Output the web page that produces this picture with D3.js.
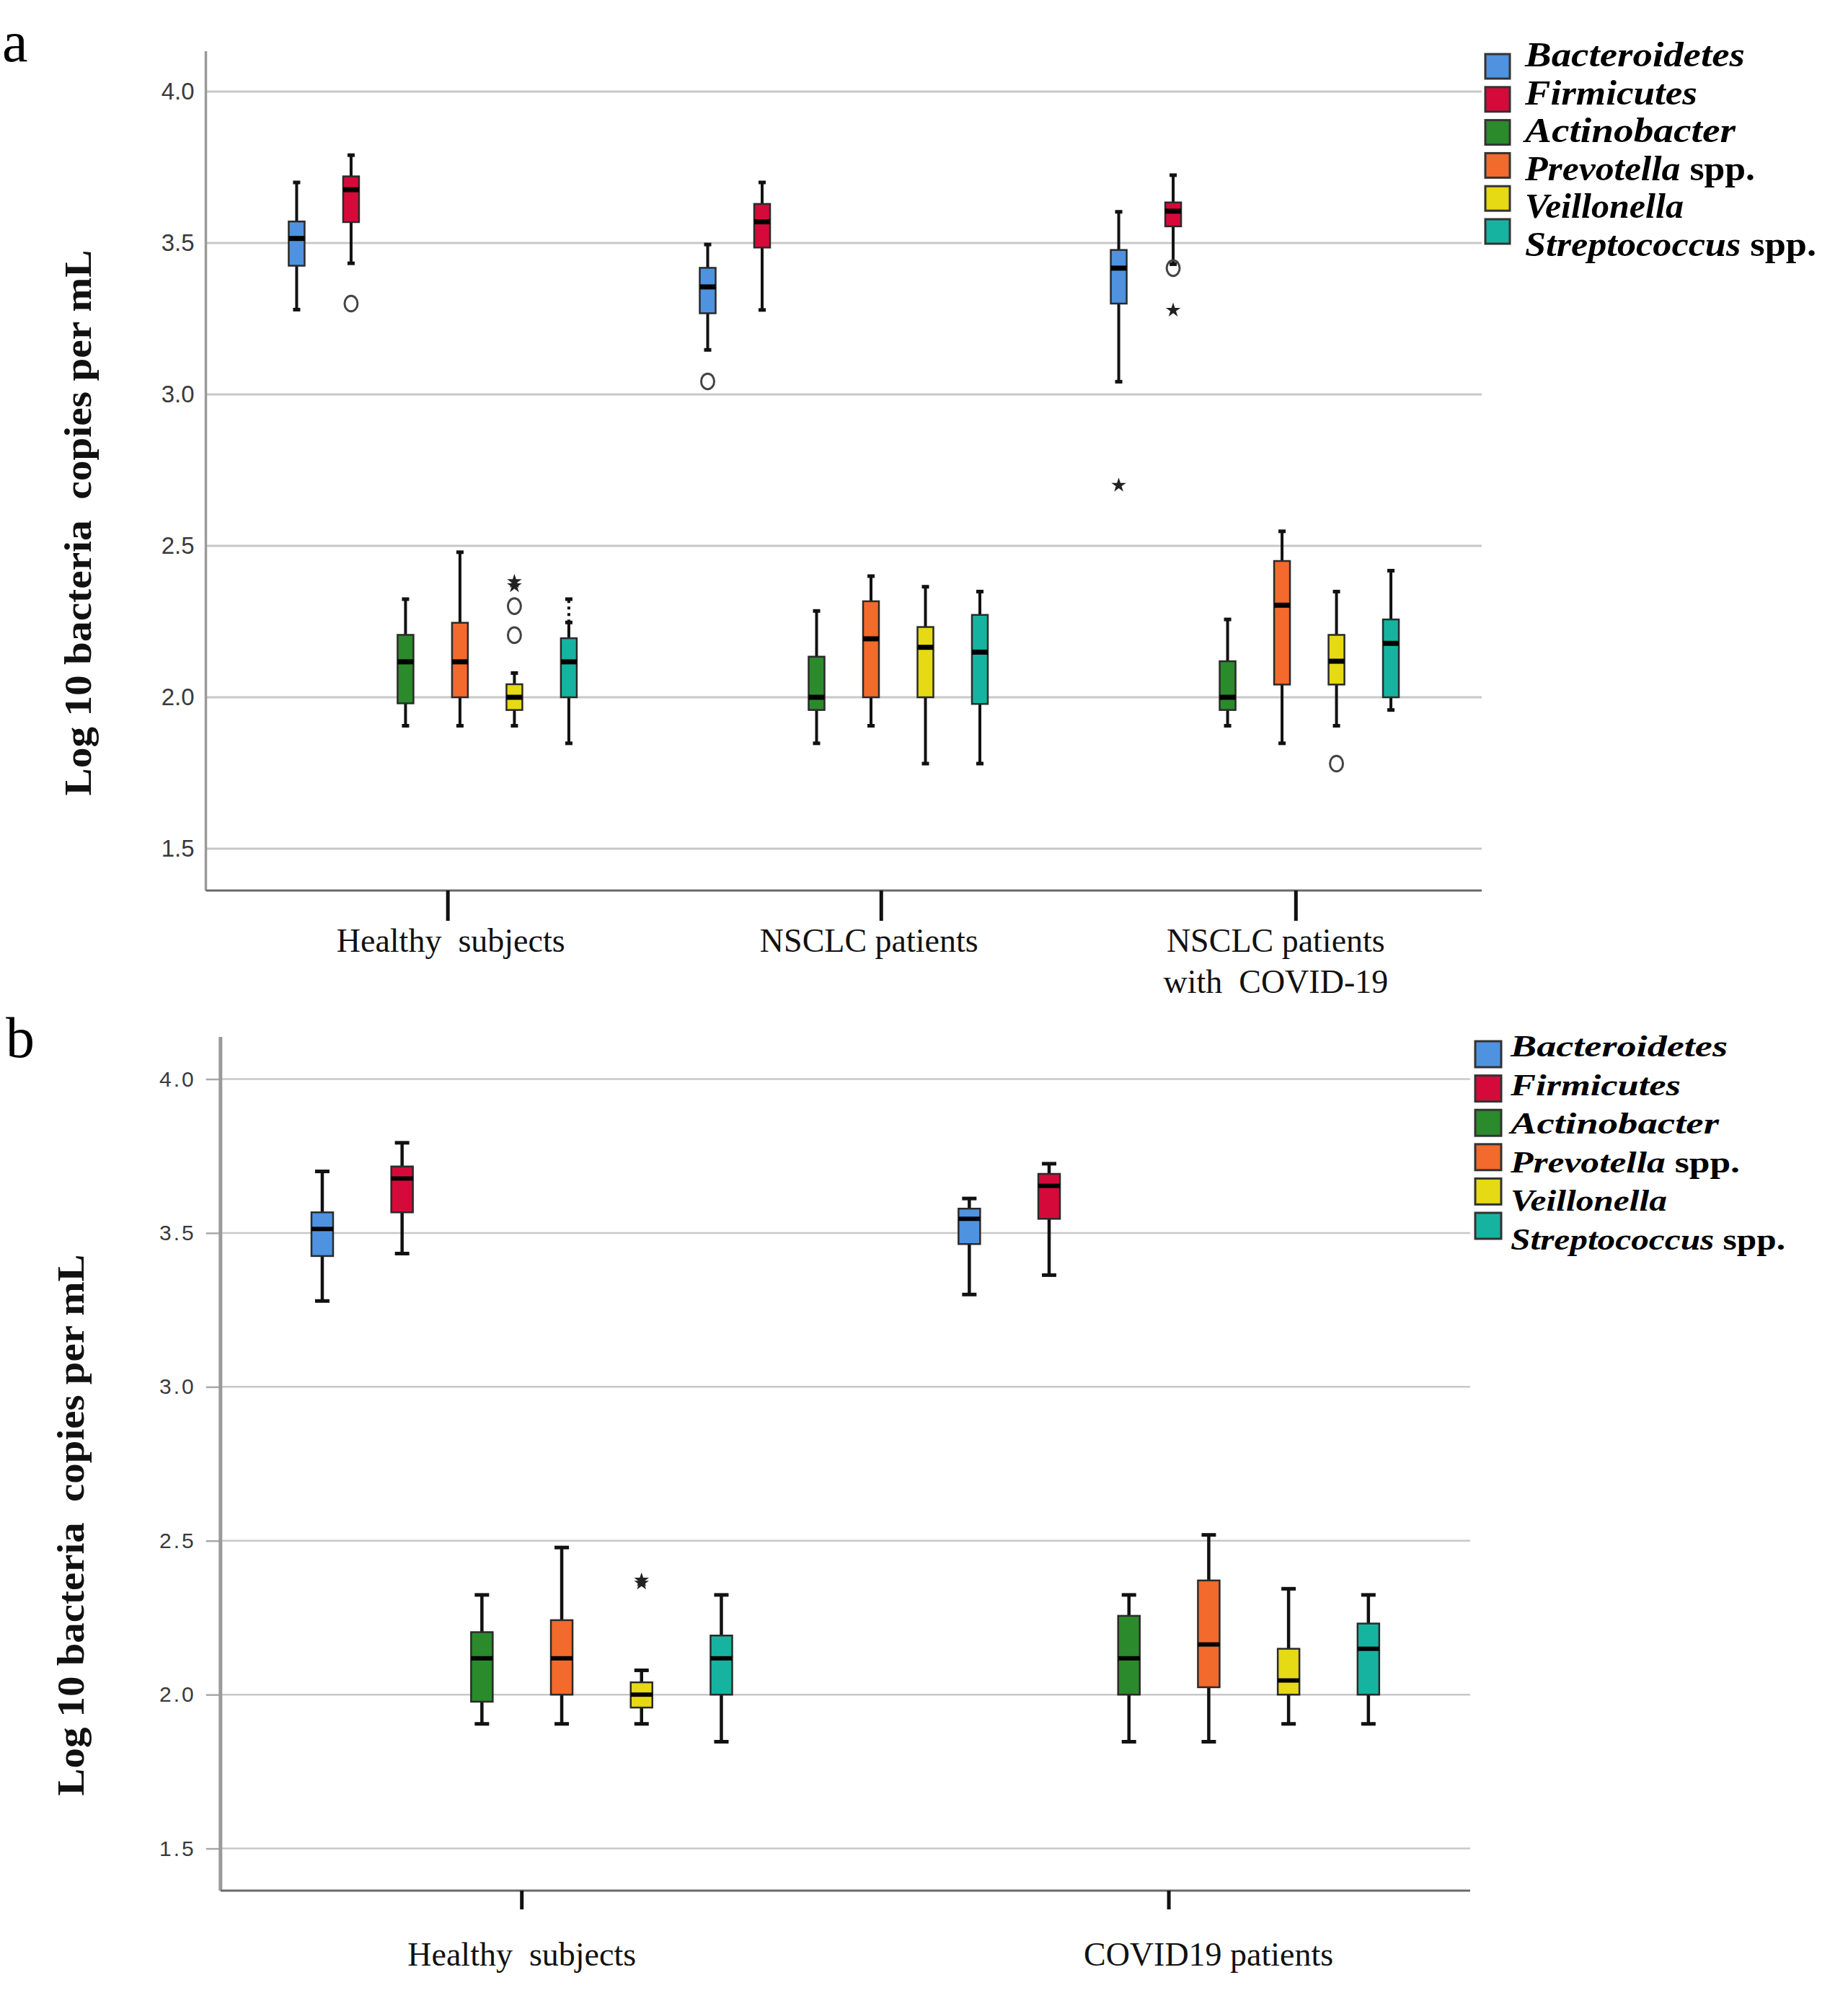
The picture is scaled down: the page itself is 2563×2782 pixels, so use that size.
<!DOCTYPE html>
<html>
<head>
<meta charset="utf-8">
<script src="https://cdnjs.cloudflare.com/ajax/libs/d3/7.8.5/d3.min.js"></script>
<style>
body { margin: 0; background: #fff; }
text { white-space: pre; }
</style>
</head>
<body>
<script>
var width = 2563;
var height = 2782;

// species, in legend order
var species = ["Bacteroidetes", "Firmicutes", "Actinobacter", "Prevotella", "Veillonella", "Streptococcus"];
var speciesSuffix = ["", "", "", " spp.", "", " spp."];
var colors = ["#4f92e0", "#d60a3a", "#2b8a2b", "#f26a2c", "#e6da14", "#16b4a0"];
var yTicks = [1.5, 2.0, 2.5, 3.0, 3.5, 4.0];
var yLabel = "Log 10 bacteria  copies per mL";

// panel a
var groupsA = ["Healthy  subjects", "NSCLC patients", "NSCLC patients\nwith  COVID-19"];
// per group, per species: [lower whisker, Q1, median, Q3, upper whisker]
var boxesA = [
  [[3.28, 3.425, 3.515, 3.571, 3.70], [3.433, 3.569, 3.676, 3.72, 3.79], [1.906, 1.98, 2.117, 2.206, 2.324],
   [1.906, 2.0, 2.117, 2.246, 2.479], [1.906, 1.958, 2.0, 2.043, 2.08], [1.848, 2.0, 2.117, 2.195, 2.247]],
  [[3.147, 3.268, 3.355, 3.418, 3.495], [3.279, 3.485, 3.570, 3.629, 3.70], [1.848, 1.958, 2.0, 2.134, 2.285],
   [1.906, 2.0, 2.193, 2.317, 2.40], [1.781, 2.0, 2.165, 2.232, 2.365], [1.781, 1.978, 2.149, 2.272, 2.349]],
  [[3.042, 3.30, 3.417, 3.477, 3.603], [3.430, 3.555, 3.605, 3.634, 3.724], [1.906, 1.958, 2.0, 2.119, 2.257],
   [1.848, 2.042, 2.304, 2.45, 2.548], [1.906, 2.042, 2.119, 2.206, 2.349], [1.958, 2.0, 2.178, 2.257, 2.418]]
];
// [group, species, value, kind]
var outliersA = [
  [0, 1, 3.30, "o"], [0, 4, 2.205, "o"], [0, 4, 2.301, "o"], [0, 4, 2.368, "*"], [0, 4, 2.382, "*"],
  [1, 0, 3.043, "o"],
  [2, 0, 2.70, "*"], [2, 1, 3.417, "o"], [2, 1, 3.278, "*"], [2, 4, 1.781, "o"]
];
// dotted whisker extension: [group, species, top value]
var dottedA = [[0, 5, 2.324]];

// panel b
var groupsB = ["Healthy  subjects", "COVID19 patients"];
var boxesB = [
  [[3.279, 3.425, 3.513, 3.567, 3.70], [3.433, 3.567, 3.677, 3.716, 3.793], [1.905, 1.977, 2.118, 2.203, 2.324],
   [1.905, 2.0, 2.118, 2.242, 2.478], [1.905, 1.958, 2.0, 2.04, 2.079], [1.847, 2.0, 2.118, 2.192, 2.324]],
  [[3.30, 3.464, 3.546, 3.579, 3.612], [3.363, 3.546, 3.653, 3.692, 3.725], [1.847, 2.0, 2.118, 2.256, 2.324],
   [1.847, 2.024, 2.163, 2.371, 2.519], [1.905, 2.0, 2.046, 2.149, 2.344], [1.905, 2.0, 2.149, 2.231, 2.324]]
];
var outliersB = [[0, 4, 2.362, "*"], [0, 4, 2.372, "*"]];
var dottedB = [];

var serif = "'Liberation Serif', 'Times New Roman', serif";
var sans = "'Liberation Sans', Arial, sans-serif";

var svg = d3.select("body")
            .append("svg")
            .attr("width", width)
            .attr("height", height);

svg.append("rect").attr("width", width).attr("height", height).attr("fill", "#fff");

var drawPanel = function(p) {
  var g = svg.append("g");
  var y = d3.scaleLinear().domain([1.5, 4.0]).range([p.y15, p.y40]);
  var gx = d3.scalePoint().domain(d3.range(p.groups.length)).range([p.left, p.right]).padding(p.pad);
  var sx = d3.scalePoint().domain(d3.range(species.length)).range([-2.5 * p.step, 2.5 * p.step]);
  var cx = function(gi, si) { return gx(gi) + sx(si); };

  // gridlines
  g.selectAll("line.grid").data(yTicks).enter().append("line")
    .attr("class", "grid")
    .attr("x1", p.left).attr("x2", p.right)
    .attr("y1", function(d) { return y(d); }).attr("y2", function(d) { return y(d); })
    .attr("stroke", "#c8c8c8").attr("stroke-width", p.gridW);

  // y axis
  var yAxis = d3.axisLeft(y).tickValues(yTicks).tickFormat(d3.format(".1f"))
    .tickSize(p.yTickLen).tickPadding(p.yTickPad);
  var ax = g.append("g").attr("transform", "translate(" + p.left + ",0)").call(yAxis);
  ax.select(".domain").remove();
  ax.selectAll(".tick line").attr("stroke", "#a8a8a8").attr("stroke-width", 2.5);
  ax.selectAll(".tick text")
    .attr("font-family", sans).attr("font-size", p.tickFont)
    .attr("letter-spacing", p.tickSpacing).attr("fill", "#3a3a3a");

  g.append("line")
    .attr("x1", p.left).attr("x2", p.left).attr("y1", p.top).attr("y2", p.bottom)
    .attr("stroke", "#9a9a9a").attr("stroke-width", p.axisW);
  g.append("line")
    .attr("x1", p.left).attr("x2", p.right).attr("y1", p.bottom).attr("y2", p.bottom)
    .attr("stroke", "#6a6a6a").attr("stroke-width", 3);

  // category ticks and labels
  g.selectAll("line.xtick").data(p.groups).enter().append("line")
    .attr("x1", function(d, i) { return gx(i) + p.tickDx[i]; })
    .attr("x2", function(d, i) { return gx(i) + p.tickDx[i]; })
    .attr("y1", p.bottom).attr("y2", p.bottom + p.xTickLen)
    .attr("stroke", "#111").attr("stroke-width", 5);

  g.selectAll("text.cat").data(p.groups).enter().append("text")
    .attr("text-anchor", "middle")
    .attr("font-family", serif).attr("font-size", p.labelFont).attr("fill", "#111")
    .each(function(d, i) {
      var t = d3.select(this);
      d.split("\n").forEach(function(line, k) {
        t.append("tspan")
          .attr("x", gx(i) + p.labelDx[i])
          .attr("y", p.labelY + k * p.lineH)
          .text(line);
      });
    });

  // boxes
  var flat = [];
  p.boxes.forEach(function(row, gi) {
    row.forEach(function(s, si) { flat.push({gi: gi, si: si, s: s}); });
  });

  var bx = g.selectAll("g.box").data(flat).enter().append("g")
    .attr("transform", function(d) { return "translate(" + cx(d.gi, d.si) + ",0)"; });

  bx.append("line")
    .attr("y1", function(d) { return y(d.s[0]); }).attr("y2", function(d) { return y(d.s[4]); })
    .attr("stroke", "#111").attr("stroke-width", p.whiskerW);
  bx.selectAll("line.cap").data(function(d) { return [d.s[0], d.s[4]]; }).enter().append("line")
    .attr("x1", -p.capW / 2).attr("x2", p.capW / 2)
    .attr("y1", function(v) { return y(v); }).attr("y2", function(v) { return y(v); })
    .attr("stroke", "#111").attr("stroke-width", 5);
  bx.append("rect")
    .attr("x", -p.boxW / 2).attr("width", p.boxW)
    .attr("y", function(d) { return y(d.s[3]); })
    .attr("height", function(d) { return y(d.s[1]) - y(d.s[3]); })
    .attr("fill", function(d) { return colors[d.si]; })
    .attr("stroke", "#2a2a2a").attr("stroke-width", p.boxStroke);
  bx.append("line")
    .attr("x1", -p.boxW / 2).attr("x2", p.boxW / 2)
    .attr("y1", function(d) { return y(d.s[2]); }).attr("y2", function(d) { return y(d.s[2]); })
    .attr("stroke", "#000").attr("stroke-width", p.medianW);

  // dotted whisker extensions
  p.dotted.forEach(function(d) {
    var x = cx(d[0], d[1]);
    g.append("line")
      .attr("x1", x).attr("x2", x)
      .attr("y1", y(p.boxes[d[0]][d[1]][4])).attr("y2", y(d[2]))
      .attr("stroke", "#111").attr("stroke-width", p.whiskerW).attr("stroke-dasharray", "4,5");
    g.append("line")
      .attr("x1", x - p.capW / 2).attr("x2", x + p.capW / 2)
      .attr("y1", y(d[2])).attr("y2", y(d[2]))
      .attr("stroke", "#111").attr("stroke-width", 5);
  });

  // outliers
  g.selectAll("ellipse.out").data(p.outliers.filter(function(d) { return d[3] === "o"; }))
    .enter().append("ellipse")
    .attr("cx", function(d) { return cx(d[0], d[1]); })
    .attr("cy", function(d) { return y(d[2]); })
    .attr("rx", p.outR).attr("ry", p.outR * 1.2)
    .attr("fill", "none").attr("stroke", "#444").attr("stroke-width", 3);
  g.selectAll("path.star").data(p.outliers.filter(function(d) { return d[3] === "*"; }))
    .enter().append("path")
    .attr("d", d3.symbol().type(d3.symbolStar).size(p.starSize))
    .attr("transform", function(d) { return "translate(" + cx(d[0], d[1]) + "," + y(d[2]) + ")"; })
    .attr("fill", "#222");

  // y title
  g.append("text")
    .attr("transform", "translate(" + p.ylabX + "," + p.ylabY + ") rotate(-90)")
    .attr("text-anchor", "middle")
    .attr("font-family", serif).attr("font-weight", "bold").attr("font-size", p.ylabFont)
    .attr("textLength", p.ylabLen).attr("lengthAdjust", "spacingAndGlyphs")
    .attr("fill", "#111")
    .text(yLabel);

  // legend
  var leg = g.selectAll("g.leg").data(species).enter().append("g");
  leg.append("rect")
    .attr("x", p.legSqX)
    .attr("y", function(d, i) { return p.legSqY + i * p.legSqStep; })
    .attr("width", p.legSq).attr("height", p.legSq)
    .attr("fill", function(d, i) { return colors[i]; })
    .attr("stroke", "#333").attr("stroke-width", 3);
  leg.append("text")
    .attr("x", p.legTextX)
    .attr("y", function(d, i) { return p.legTextY + i * p.legTextStep; })
    .attr("font-family", serif).attr("font-weight", "bold").attr("font-size", p.legFont)
    .attr("fill", "#000")
    .attr("textLength", function(d, i) { return p.legLens[i]; })
    .attr("lengthAdjust", "spacingAndGlyphs")
    .each(function(d, i) {
      var t = d3.select(this);
      t.append("tspan").attr("font-style", "italic").text(d);
      if (speciesSuffix[i]) t.append("tspan").text(speciesSuffix[i]);
    });

  // panel letter
  g.append("text")
    .attr("x", p.letterX).attr("y", p.letterY)
    .attr("font-family", serif).attr("font-size", 80).attr("fill", "#000")
    .text(p.letter);
};

drawPanel({
  groups: groupsA, boxes: boxesA, outliers: outliersA, dotted: dottedA,
  left: 285.5, right: 2055, top: 71, bottom: 1235, y40: 127, y15: 1177,
  pad: 0.552, step: 75.5, boxW: 22, capW: 10, whiskerW: 4, medianW: 7, boxStroke: 2.5,
  gridW: 3, axisW: 3.5, yTickLen: 0, yTickPad: 16, tickFont: 33, tickSpacing: 0,
  tickDx: [21, 52, 57], xTickLen: 42, labelDx: [25, 35, 29], labelY: 1320, lineH: 57, labelFont: 46,
  outR: 9, starSize: 130,
  ylabX: 126, ylabY: 725, ylabLen: 757, ylabFont: 52,
  legSqX: 2060, legSqY: 75, legSqStep: 45.8, legSq: 34,
  legTextX: 2115, legTextY: 92, legTextStep: 52.6, legFont: 48,
  legLens: [305, 239, 292, 319, 220, 404],
  letter: "a", letterX: 3, letterY: 85
});

drawPanel({
  groups: groupsB, boxes: boxesB, outliers: outliersB, dotted: dottedB,
  left: 305.8, right: 2039, top: 1438, bottom: 2622, y40: 1496.5, y15: 2563.6,
  pad: 0.4657, step: 110.7, boxW: 30, capW: 20, whiskerW: 4.5, medianW: 6, boxStroke: 2.5,
  gridW: 2.5, axisW: 5, yTickLen: 20, yTickPad: 14, tickFont: 30, tickSpacing: 3,
  tickDx: [0, 0], xTickLen: 26, labelDx: [0, 55], labelY: 2726, lineH: 57, labelFont: 46,
  outR: 9, starSize: 130,
  ylabX: 116, ylabY: 2115, ylabLen: 751, ylabFont: 52,
  legSqX: 2046, legSqY: 1444, legSqStep: 47.6, legSq: 36,
  legTextX: 2095, legTextY: 1465, legTextStep: 53.5, legFont: 42,
  legLens: [301, 236, 289, 318, 217, 381],
  letter: "b", letterX: 8, letterY: 1466
});
</script>
</body>
</html>
